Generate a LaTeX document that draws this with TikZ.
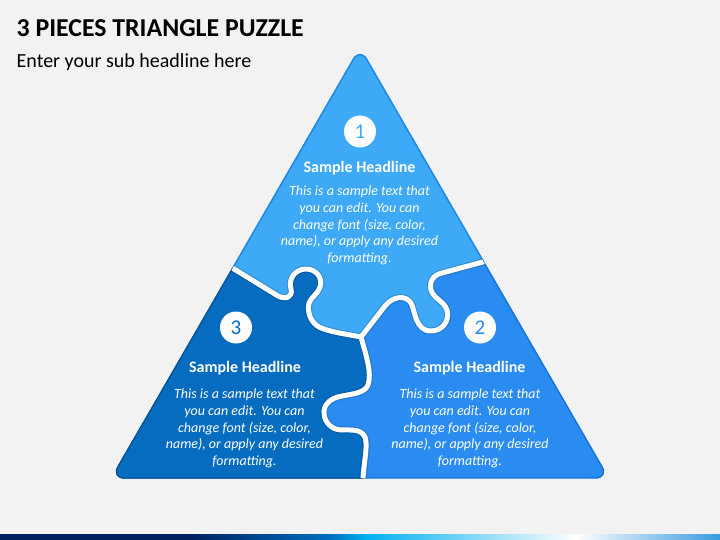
\documentclass[tikz,border=0pt]{standalone}
\usepackage{fontspec}
\setmainfont{Carlito}
\definecolor{bgc}{HTML}{F2F2F2}
\definecolor{pone}{HTML}{3EA9F7}
\definecolor{poned}{HTML}{1E8AE6}
\definecolor{ptwo}{HTML}{2A8CF0}
\definecolor{ptwod}{HTML}{1572D6}
\definecolor{pthree}{HTML}{066CC0}
\definecolor{pthreed}{HTML}{04549A}
\definecolor{barnavy}{HTML}{002060}
\definecolor{barmid}{HTML}{0070C0}
\definecolor{barcyan}{HTML}{00B0F0}
\definecolor{barend}{HTML}{3A9AE0}
\tikzset{
  tri/.style={insert path={(360,478) -- (608.5,478) -- (360,48) -- (111.5,478) -- cycle}},
  bndA/.style={insert path={(203,250) -- (278,296) .. controls (286,300) and (293,297) .. (291,289)
     .. controls (288,279) and (295,269) .. (306,269) .. controls (317,269) and (323,279) .. (320,287)
     .. controls (318,294) and (311,297) .. (309,303) .. controls (307,311) and (310,322) .. (319,327)
     .. controls (329,332) and (346,334) .. (361,337)}},
  bndBc/.style={insert path={-- (385,306) .. controls (392,297) and (405,294) .. (411,303)
     .. controls (415,310) and (415,331) .. (431,331) .. controls (443,331) and (450,320) .. (447,310)
     .. controls (444,301) and (434,299) .. (431,290) .. controls (429,282) and (433,275) .. (442,273)
     -- (520,252)}},
  bndCc/.style={insert path={.. controls (366,355) and (372,373) .. (368,385)
     .. controls (365,393) and (352,394) .. (342,396) .. controls (330,398) and (323,405) .. (324,414)
     .. controls (325,423) and (332,430) .. (342,430) .. controls (352,430) and (361,429) .. (365,437)
     .. controls (368,445) and (364,462) .. (363,478) -- (362,510)}},
  piecefill/.style={rounded corners=13, line width=1.4},
  gapshade/.style={line width=7.2, draw=black, draw opacity=0.16, line join=round},
  gapwhite/.style={line width=5, draw=white, line join=round},
  numc/.style={circle, fill=white, minimum size=32, inner sep=0, font=\fontsize{21}{24}\selectfont},
  head/.style={text=white, inner sep=0, font=\fontsize{16}{18}\selectfont\bfseries},
  body/.style={text=white, inner sep=0, align=center, font=\fontsize{14}{16.6}\selectfont\itshape},
}
\begin{document}
\begin{tikzpicture}[x=1pt,y=-1pt]
\useasboundingbox (0,0) rectangle (720,540);
\fill[bgc] (0,0) rectangle (720,540);
% bottom bar
\fill[barnavy] (0,534) rectangle (191,540);
\shade[left color=barnavy, right color=barmid] (190,534) rectangle (331,540);
\shade[left color=barmid, right color=barcyan] (330,534) rectangle (366,540);
\shade[left color=barcyan, right color=white] (365,534) rectangle (576,540);
\shade[left color=white, right color=barend] (575,534) rectangle (720,540);
% pieces
\fill[ptwo, draw=ptwod, piecefill, tri];
\begin{scope}
  \clip [bndA] [bndBc] -- (520,0) -- (203,0) -- cycle;
  \fill[pone, draw=poned, piecefill, tri];
\end{scope}
\begin{scope}
  \clip [bndA] [bndCc] -- (100,510) -- (100,250) -- cycle;
  \fill[pthree, draw=pthreed, piecefill, tri];
\end{scope}
% gaps
\begin{scope}
  \clip [rounded corners=13, tri];
  \draw[gapshade] [bndA] (361,337) [bndBc] (361,337) [bndCc];
  \draw[gapwhite] [bndA] (361,337) [bndBc] (361,337) [bndCc];
\end{scope}
% title
\node[anchor=base west, inner sep=0, font=\fontsize{25.8}{30}\selectfont\bfseries] (title) at (16.5,36.7) {3 PIECES TRIANGLE PUZZLE};
\node[anchor=base west, inner sep=0, font=\fontsize{20}{24}\selectfont] (sub) at (16.5,68) {Enter your sub headline here};
% piece 1
\node[numc, text=pone] (n1) at (360,131.5) {1};
\node[head] (h1) at (359.5,168.5) {Sample Headline};
\node[body] (b1) at (359.5,225.5) {This is a sample text that\\you can edit. You can\\change font (size, color,\\name), or apply any desired\\formatting.};
% piece 3
\node[numc, text=pthree] (n3) at (236,327.5) {3};
\node[head] (h3) at (245,368.5) {Sample Headline};
\node[body] (b3) at (244.5,428.5) {This is a sample text that\\you can edit. You can\\change font (size, color,\\name), or apply any desired\\formatting.};
% piece 2
\node[numc, text=ptwo] (n2) at (480,327.5) {2};
\node[head] (h2) at (469.5,368.5) {Sample Headline};
\node[body] (b2) at (470,428.5) {This is a sample text that\\you can edit. You can\\change font (size, color,\\name), or apply any desired\\formatting.};
\end{tikzpicture}
\end{document}
